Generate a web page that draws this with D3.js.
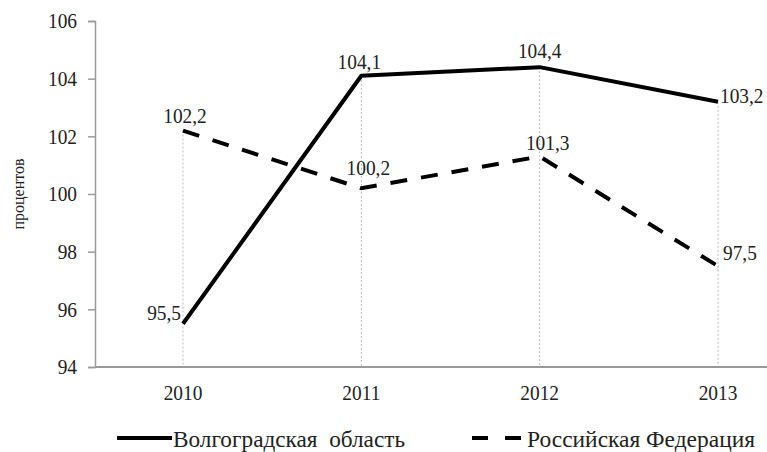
<!DOCTYPE html>
<html>
<head>
<meta charset="utf-8">
<script src="https://cdn.jsdelivr.net/npm/d3@7"></script>
<style>
  body { margin: 0; background: #fff; }
</style>
</head>
<body>
<div id="chart"></div>
<script>
// Data
var years = ["2010", "2011", "2012", "2013"]
var volgograd = [95.5, 104.1, 104.4, 103.2]
var russia = [102.2, 100.2, 101.3, 97.5]
var yTicks = [94, 96, 98, 100, 102, 104, 106]
var seriesNames = ["Волгоградская  область", "Российская Федерация"]

var width = 767
var height = 452
var serif = "'Liberation Serif', 'Times New Roman', serif"
var fontSize = 21.5
var squeezeK = 0.9 // the original text looks a bit narrow

// plot area
var margin = { left: 95, right: 0, top: 21, bottom: 85 }

var svg = d3.select("#chart").append("svg")
    .attr("width", width)
    .attr("height", height)
    .attr("font-family", serif)

var x = d3.scalePoint()
    .domain(years)
    .range([183, 718])

var y = d3.scaleLinear()
    .domain([94, 106])
    .range([height - margin.bottom, margin.top])

// drop lines from the higher value down to the axis
svg.append("g").selectAll("line")
    .data(years)
    .enter()
    .append("line")
    .attr("x1", d => x(d))
    .attr("x2", d => x(d))
    .attr("y1", (d, i) => y(Math.max(volgograd[i], russia[i])))
    .attr("y2", y(94))
    .attr("stroke", "#b5b5b5")
    .attr("stroke-width", 1)
    .attr("stroke-dasharray", "2,2")

// y axis
var yAxis = svg.append("g")
    .attr("transform", "translate(" + margin.left + ",0)")
    .call(d3.axisLeft(y).tickValues(yTicks).tickSize(7).tickPadding(11))
yAxis.attr("font-family", serif).attr("font-size", fontSize)
yAxis.select(".domain").attr("stroke", "#9a9a9a").attr("stroke-width", 1.5)
yAxis.selectAll(".tick line").attr("stroke", "#9a9a9a").attr("stroke-width", 1.5)
yAxis.selectAll("text").attr("fill", "#222")

// x axis line and labels
svg.append("line")
    .attr("x1", margin.left)
    .attr("x2", width)
    .attr("y1", y(94))
    .attr("y2", y(94))
    .attr("stroke", "#9a9a9a")
    .attr("stroke-width", 2)

var xLabels = svg.append("g").selectAll("text")
    .data(years)
    .enter()
    .append("text")
    .attr("x", d => x(d))
    .attr("y", 400)
    .attr("text-anchor", "middle")
    .attr("font-size", fontSize)
    .attr("fill", "#222")
    .text(d => d)

// y label
svg.append("text")
    .attr("transform", "translate(24,194) rotate(-90)")
    .attr("text-anchor", "middle")
    .attr("font-size", 16)
    .attr("fill", "#222")
    .text("процентов")

var line = d3.line()
    .x((d, i) => x(years[i]))
    .y(d => y(d))

svg.append("path")
    .datum(volgograd)
    .attr("d", line)
    .attr("fill", "none")
    .attr("stroke", "#000")
    .attr("stroke-width", 4)
    .attr("stroke-linejoin", "round")

svg.append("path")
    .datum(russia)
    .attr("d", line)
    .attr("fill", "none")
    .attr("stroke", "#000")
    .attr("stroke-width", 4)
    .attr("stroke-dasharray", "17,14")

// value labels (offsets picked to match where they sit on the original)
var volgOffsets = [[-2, -4, "end"], [-2, -7, "middle"], [0, -9, "middle"], [2, 1, "start"]]
var rusOffsets = [[2, -8, "middle"], [7, -13, "middle"], [8, -7, "middle"], [5, -6, "start"]]

function addLabels(values, offsets) {
    return svg.append("g").selectAll("text")
        .data(values)
        .enter()
        .append("text")
        .attr("x", (d, i) => x(years[i]) + offsets[i][0])
        .attr("y", (d, i) => y(d) + offsets[i][1])
        .attr("text-anchor", (d, i) => offsets[i][2])
        .attr("font-size", fontSize)
        .attr("fill", "#222")
        .text(d => d.toFixed(1).replace(".", ","))
}
var l1 = addLabels(volgograd, volgOffsets)
var l2 = addLabels(russia, rusOffsets)

// legend
var legend = svg.append("g")
legend.append("line")
    .attr("x1", 117).attr("x2", 172)
    .attr("y1", 438).attr("y2", 438)
    .attr("stroke", "#000").attr("stroke-width", 4)
legend.append("text")
    .attr("x", 173).attr("y", 447)
    .attr("font-size", 23)
    .attr("fill", "#222")
    .style("white-space", "pre")
    .attr("textLength", 232)
    .attr("lengthAdjust", "spacingAndGlyphs")
    .text(seriesNames[0])
legend.append("line")
    .attr("x1", 472).attr("x2", 521)
    .attr("y1", 438).attr("y2", 438)
    .attr("stroke", "#000").attr("stroke-width", 4)
    .attr("stroke-dasharray", "16,17")
legend.append("text")
    .attr("x", 527).attr("y", 447)
    .attr("font-size", 23)
    .attr("fill", "#222")
    .attr("textLength", 228)
    .attr("lengthAdjust", "spacingAndGlyphs")
    .text(seriesNames[1])

// narrow the number labels a little, like in the original
function squeeze(sel) {
    sel.each(function () {
        var w = this.getComputedTextLength()
        d3.select(this)
            .attr("textLength", w * squeezeK)
            .attr("lengthAdjust", "spacingAndGlyphs")
    })
}
squeeze(yAxis.selectAll("text"))
squeeze(xLabels)
squeeze(l1)
squeeze(l2)
</script>
</body>
</html>
